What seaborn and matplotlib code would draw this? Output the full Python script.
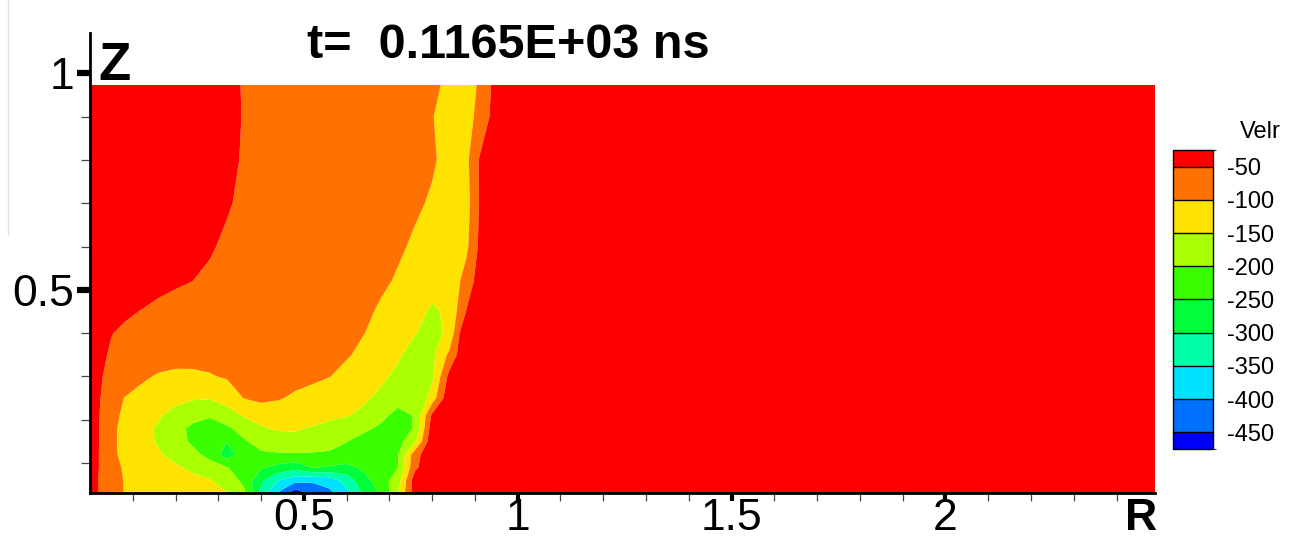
import numpy as np
import matplotlib
matplotlib.use("Agg")
import matplotlib.pyplot as plt
import seaborn as sns
from matplotlib.colors import ListedColormap, BoundaryNorm
from matplotlib.lines import Line2D
from matplotlib.ticker import FixedLocator

# ---------------- data ----------------
r_nodes = [0.00, 0.02, 0.05, 0.08, 0.12, 0.16, 0.20, 0.24, 0.28, 0.32, 0.36, 0.40,
           0.44, 0.48, 0.52, 0.56, 0.60, 0.64, 0.68, 0.72, 0.76, 0.80, 0.84, 0.88,
           0.92, 0.96, 1.00, 2.49]
z_nodes = [0.031, 0.06, 0.09, 0.12, 0.15, 0.18, 0.21, 0.25, 0.30, 0.35, 0.40, 0.45,
           0.52, 0.60, 0.70, 0.80, 0.90, 0.973]

velr_z00 = [-35, -51, -76, -101, -108, -116, -124, -132, -140, -148, -188, -315, -405, -478, -434, -411, -366, -291, -242, -152, -26, -10, -10, -10, -10, -10, -10, -10]
velr_z01 = [-35, -51, -79, -102, -111, -120, -129, -138, -147, -173, -212, -291, -348, -385, -392, -380, -327, -268, -226, -174, -20, -10, -10, -10, -10, -10, -10, -10]
velr_z02 = [-35, -49, -83, -105, -118, -131, -144, -160, -179, -198, -221, -243, -265, -280, -247, -255, -265, -240, -220, -200, -60, -10, -10, -10, -10, -10, -10, -10]
velr_z03 = [-35, -49, -91, -110, -127, -145, -165, -186, -215, -275, -225, -206, -205, -205, -206, -208, -212, -215, -212, -203, -70, -10, -10, -10, -10, -10, -10, -10]
velr_z04 = [-35, -48, -91, -112, -133, -155, -181, -208, -225, -248, -205, -185, -170, -162, -168, -180, -199, -215, -222, -220, -158, -10, -10, -10, -10, -10, -10, -10]
velr_z05 = [-35, -48, -90, -112, -134, -156, -185, -210, -218, -208, -183, -155, -145, -146, -153, -165, -178, -192, -207, -215, -197, -20, -10, -10, -10, -10, -10, -10]
velr_z06 = [-35, -47, -86, -108, -127, -145, -165, -185, -196, -175, -145, -132, -128, -132, -135, -140, -147, -160, -190, -212, -198, -40, -10, -10, -10, -10, -10, -10]
velr_z07 = [-35, -46, -73, -101, -115, -128, -138, -145, -147, -128, -99, -88, -96, -108, -118, -128, -136, -144, -158, -185, -198, -128, -10, -10, -10, -10, -10, -10]
velr_z08 = [-35, -45, -60, -74, -92, -105, -110, -108, -103, -96, -88, -82, -80, -84, -90, -99, -113, -128, -143, -158, -168, -160, -35, -10, -10, -10, -10, -10]
velr_z09 = [-35, -42, -54, -60, -68, -76, -82, -85, -86, -84, -80, -76, -75, -77, -82, -88, -96, -110, -125, -145, -165, -162, -90, 0, -10, -10, -10, -10]
velr_z10 = [-30, -38, -49, -55, -62, -68, -73, -76, -77, -77, -76, -75, -75, -76, -79, -84, -91, -99, -112, -130, -148, -165, -140, 10, -10, -10, -10, -10]
velr_z11 = [-25, -30, -38, -45, -51, -58, -64, -68, -71, -73, -74, -74, -74, -75, -77, -81, -87, -94, -104, -118, -132, -158, -140, -48, -10, -10, -10, -10]
velr_z12 = [-20, -22, -26, -30, -35, -40, -45, -50, -55, -60, -64, -67, -70, -72, -74, -78, -83, -89, -95, -103, -115, -130, -135, -80, -10, -10, -10, -10]
velr_z13 = [-15, -16, -18, -20, -23, -27, -32, -40, -47, -55, -62, -68, -72, -75, -78, -81, -84, -88, -92, -96, -104, -112, -118, -110, -20, -10, -10, -10]
velr_z14 = [-12, -13, -14, -15, -17, -20, -24, -29, -36, -47, -56, -63, -68, -72, -75, -78, -81, -84, -88, -92, -96, -103, -112, -120, -25, -10, -10, -10]
velr_z15 = [-10, -10, -11, -12, -13, -15, -18, -22, -28, -37, -55, -62, -67, -70, -73, -75, -77, -79, -82, -85, -90, -97, -108, -112, -25, -10, -10, -10]
velr_z16 = [-10, -10, -10, -11, -12, -13, -15, -18, -23, -33, -53, -60, -65, -68, -71, -73, -75, -78, -81, -85, -90, -99, -110, -115, -80, 5, -10, -10]
velr_z17 = [-10, -10, -10, -10, -11, -12, -14, -17, -22, -38, -53, -58, -62, -65, -68, -70, -72, -75, -78, -82, -87, -94, -106, -115, -90, 0, -10, -10]

contour_levels = [-450, -400, -350, -300, -250, -200, -150, -100, -50]
band_colors = ["#0000FF", "#0071FF", "#00E3FF", "#00FFAA", "#00FF39",
               "#39FF00", "#AAFF00", "#FFE300", "#FF7100", "#FF0000"]
x_tick_labels = ["0.5", "1", "1.5", "2"]
y_tick_labels = ["0.5", "1"]
title_text = "t=  0.1165E+03 ns"

# ---------------- style ----------------
sns.set_style("ticks")
plt.rcParams["font.family"] = ["Liberation Sans", "DejaVu Sans"]
plt.rcParams["text.color"] = "black"
plt.rcParams["axes.labelcolor"] = "black"
plt.rcParams["xtick.color"] = "black"
plt.rcParams["ytick.color"] = "black"
plt.rcParams["xtick.labelcolor"] = "black"
plt.rcParams["ytick.labelcolor"] = "black"

velr = np.array([velr_z00, velr_z01, velr_z02, velr_z03, velr_z04, velr_z05,
                 velr_z06, velr_z07, velr_z08, velr_z09, velr_z10, velr_z11,
                 velr_z12, velr_z13, velr_z14, velr_z15, velr_z16, velr_z17], dtype=float)

W, H = 1291, 540
fig = plt.figure(figsize=(W / 100, H / 100), dpi=100)
fig.patch.set_facecolor("white")

ax = fig.add_axes([90 / W, 47 / H, 1065 / W, 460 / H])
fill_levels = [-1000] + contour_levels + [1000]
ax.contourf(r_nodes, z_nodes, velr, levels=fill_levels, colors=band_colors,
            antialiased=True)
ax.set_xlim(0, 2.49)
ax.set_ylim(0.031, 1.093)
ax.set_facecolor("white")

for side in ["top", "right"]:
    ax.spines[side].set_visible(False)
for side in ["left", "bottom"]:
    ax.spines[side].set_linewidth(2.0)
    ax.spines[side].set_color("black")

ax.xaxis.set_major_locator(FixedLocator([0.5, 1.0, 1.5, 2.0]))
ax.set_xticklabels(x_tick_labels)
xminor = [v for v in np.round(np.arange(0.1, 2.45, 0.1), 2) if abs(v * 2 - round(v * 2)) > 1e-6]
ax.xaxis.set_minor_locator(FixedLocator(xminor))
ax.yaxis.set_major_locator(FixedLocator([0.5, 1.0]))
ax.set_yticklabels(y_tick_labels)
yminor = [0.1, 0.2, 0.3, 0.4, 0.6, 0.7, 0.8, 0.9]
ax.yaxis.set_minor_locator(FixedLocator(yminor))

ax.tick_params(axis="x", which="major", direction="out", length=6, width=3,
               labelsize=32, pad=-2.5, color="black", labelcolor="black")
ax.tick_params(axis="x", which="minor", direction="out", length=6, width=0.9,
               color="#444444")
ax.tick_params(axis="y", which="major", direction="out", length=9.5, width=4.5,
               labelsize=32, pad=2, color="black", labelcolor="black")
ax.tick_params(axis="y", which="minor", direction="out", length=6.5, width=0.9,
               color="#444444")

# colour bar
cax = fig.add_axes([1173 / W, (H - 449) / H, 40 / W, 299 / H])
cb_bounds = [-475] + contour_levels + [-25]
cmap = ListedColormap(band_colors)
norm = BoundaryNorm(cb_bounds, cmap.N)
sm = plt.cm.ScalarMappable(norm=norm, cmap=cmap)
cb = fig.colorbar(sm, cax=cax, boundaries=cb_bounds, ticks=contour_levels,
                  drawedges=True, spacing="proportional")
cb.set_ticklabels([str(v) for v in contour_levels])
cb.outline.set_linewidth(1.0)
cb.outline.set_edgecolor("black")
cb.dividers.set_color("black")
cb.dividers.set_linewidth(1.0)
cax.tick_params(length=0, labelsize=17, pad=10, labelcolor="black")

fig.text(1240 / W, (H - 138) / H, "Velr", fontsize=17, ha="left", va="baseline")

# titles / axis names
fig.text(508 / W, (H - 58) / H, title_text, fontsize=35, fontweight="bold",
         ha="center", va="baseline")
fig.text(98 / W, (H - 80) / H, "Z", fontsize=38, fontweight="bold",
         ha="left", va="baseline")
fig.text(1125 / W, (H - 530) / H, "R", fontsize=32, fontweight="bold",
         ha="left", va="baseline")

# faint frame remnant at top-left
fig.add_artist(Line2D([8 / W, 8 / W], [1.0, (H - 235) / H], color="#e2e2e2",
                      lw=1.0, transform=fig.transFigure))

fig.savefig("out.png", dpi=100)
